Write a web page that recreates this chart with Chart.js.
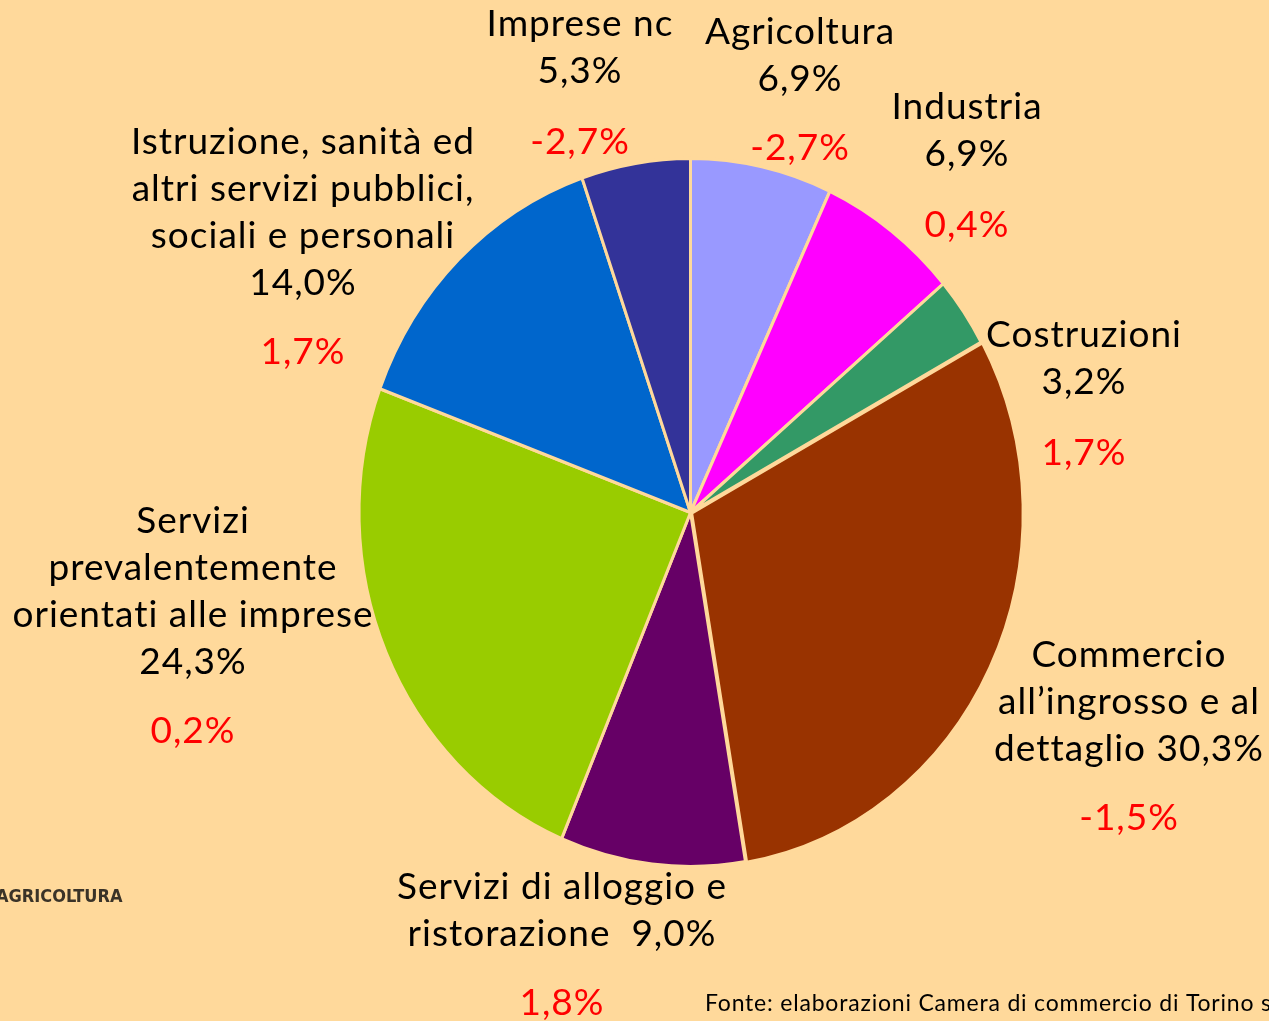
<!DOCTYPE html>
<html>
<head>
<meta charset="utf-8">
<script src="https://cdn.jsdelivr.net/npm/chart.js@4.4.0/dist/chart.umd.min.js"></script>
<style>
    html, body { margin: 0; padding: 0; background: #FFD99B; }
    #wrap { position: relative; width: 1269px; height: 1021px; overflow: hidden; }
</style>
</head>
<body>
<div id="wrap"><canvas id="pie"></canvas></div>
<script>
// Sector shares, clockwise from 12 o'clock
const categories = ['Agricoltura', 'Industria', 'Costruzioni', 'Commercio all\u2019ingrosso e al dettaglio',
    'Servizi di alloggio e ristorazione', 'Servizi prevalentemente orientati alle imprese',
    'Istruzione, sanità ed altri servizi pubblici, sociali e personali', 'Imprese nc'];
const shares = [6.9, 6.9, 3.2, 30.3, 9.0, 24.3, 14.0, 5.3];
const changes = [-2.7, 0.4, 1.7, -1.5, 1.8, 0.2, 1.7, -2.7];

// wrapped label text (the share is appended to the last line or as its own line)
const labelLines = [
    ['Agricoltura'],
    ['Industria'],
    ['Costruzioni'],
    ['Commercio', 'all\u2019ingrosso e al', 'dettaglio'],
    ['Servizi di alloggio e', 'ristorazione '],
    ['Servizi', 'prevalentemente', 'orientati alle imprese'],
    ['Istruzione, sanità ed', 'altri servizi pubblici,', 'sociali e personali'],
    ['Imprese nc']
];
const shareInline = [false, false, false, true, true, false, false, false];

// label layout: [centre x, first line y, change y]
const labelPos = [
    [800, 32, 148],
    [967, 107, 225],
    [1084, 335, 453],
    [1129, 655, 818],
    [562, 887, 1003],
    [193, 521, 731],
    [303, 142, 352],
    [580, 24, 142]
];

const colors = ['#9999FF', '#FF00FF', '#339966', '#993300', '#660066', '#99CC00', '#0066CC', '#333399'];
const BG = '#FFD99B';
const FONT = 'Lato, "Noto Sans", sans-serif';
const LINE_H = 47;
const Y_STRETCH = 1.068;   // the original pie is slightly taller than wide

const fmt = v => v.toFixed(1).replace('.', ',') + '%';

// stretch the pie vertically around its centre
const stretchPlugin = {
    id: 'stretch',
    beforeDatasetsDraw(chart) {
        const arc = chart.getDatasetMeta(0).data[0];
        const ctx = chart.ctx;
        ctx.save();
        ctx.translate(arc.x, arc.y);
        ctx.scale(1, Y_STRETCH);
        ctx.translate(-arc.x, -arc.y);
    },
    afterDatasetsDraw(chart) {
        chart.ctx.restore();
    }
};

const labelPlugin = {
    id: 'sectorLabels',
    afterDraw(chart) {
        const ctx = chart.ctx;
        ctx.save();
        ctx.textAlign = 'center';
        ctx.textBaseline = 'middle';
        ctx.font = '37px ' + FONT;
        ctx.letterSpacing = '1px';
        labelLines.forEach((lines, i) => {
            const [x, y, ry] = labelPos[i];
            const out = lines.slice();
            if (shareInline[i]) out[out.length - 1] += ' ' + fmt(shares[i]);
            else out.push(fmt(shares[i]));
            ctx.fillStyle = '#000';
            out.forEach((t, k) => ctx.fillText(t, x, y + k * LINE_H));
            ctx.fillStyle = '#FF0000';
            ctx.fillText(fmt(changes[i]), x, ry);
        });

        // source note
        ctx.textAlign = 'left';
        ctx.textBaseline = 'alphabetic';
        ctx.fillStyle = '#000';
        ctx.font = '23px ' + FONT;
        ctx.letterSpacing = '0.8px';
        ctx.fillText('Fonte: elaborazioni Camera di commercio di Torino su dati InfoCamere', 705, 1011);

        // cut-off logo text
        ctx.font = 'bold 18px "Liberation Sans Narrow", "DejaVu Sans Condensed", sans-serif';
        ctx.letterSpacing = '0px';
        ctx.fillStyle = '#3a3328';
        ctx.textBaseline = 'middle';
        ctx.fillText('AGRICOLTURA', -4, 897);
        ctx.restore();
    }
};

new Chart(document.getElementById('pie'), {
    type: 'pie',
    data: {
        labels: categories,
        datasets: [{
            data: shares,
            backgroundColor: colors,
            borderColor: BG,
            borderWidth: 3,
            offset: [0, 0, 0, 5, 0, 0, 0, 0]
        }]
    },
    options: {
        responsive: true,
        maintainAspectRatio: false,
        animation: false,
        layout: { padding: { left: 355, right: 243, top: 177, bottom: 173 } },
        plugins: {
            legend: { display: false },
            tooltip: { enabled: false }
        }
    },
    plugins: [stretchPlugin, labelPlugin]
});
</script>
</body>
</html>
